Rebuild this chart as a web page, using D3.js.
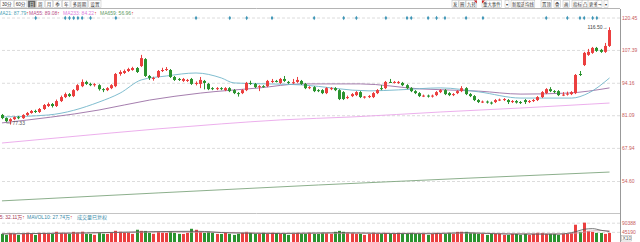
<!DOCTYPE html>
<html>
<head>
<meta charset="utf-8">
<script src="https://cdn.jsdelivr.net/npm/d3@7"></script>
<style>
  body { margin: 0; background: #fff; overflow: hidden; }
  svg { display: block; font-family: "Liberation Sans", Arial, "Noto Sans CJK SC", sans-serif; }
</style>
</head>
<body>
<svg id="chart" width="640" height="242"></svg>
<script>
// daily candles
const opens = [81.2,79.95,78.7,79.5,80.3,79.9,81.2,82.0,82.8,82.4,83.6,84.8,85.6,84.8,86.8,88.4,89.6,88.8,91.2,92.8,
  94.5,93.7,93.2,93.2,91.6,91.2,92.0,92.8,97.7,98.1,98.9,99.3,100.1,100.9,103.7,96.9,95.7,96.5,98.9,99.3,
  99.3,96.5,95.7,94.9,94.9,95.7,93.7,93.7,94.9,93.7,92.0,91.6,92.0,91.2,92.0,91.2,90.0,90.0,91.2,94.1,
  93.7,92.4,92.8,92.8,94.5,94.9,94.1,95.7,94.5,94.1,94.5,94.9,93.7,92.0,92.4,91.2,91.2,90.0,91.6,92.0,
  91.2,90.4,88.0,88.8,89.2,90.4,88.4,88.4,88.4,90.0,92.0,92.0,94.5,94.3,94.1,94.1,93.2,92.0,90.8,90.0,
  88.8,89.0,88.6,89.2,90.4,91.2,90.0,89.2,90.0,90.8,92.0,89.6,88.8,87.2,86.4,86.6,86.2,86.4,87.2,87.2,
  87.2,86.4,86.8,86.4,87.2,86.4,86.8,87.2,88.4,90.0,91.6,90.8,90.8,89.2,89.4,89.6,90.0,97.7,101.3,105.4,
  106.2,108.2,107.4,106.6,109.0];
const closes = [79.95,78.7,79.5,80.3,79.9,81.2,82.0,82.8,82.4,83.6,85.2,85.6,84.8,86.8,88.4,89.6,88.8,91.2,93.2,94.5,
  93.7,93.2,93.6,91.6,91.2,92.0,93.2,97.7,98.5,98.9,99.7,100.1,98.5,104.1,96.9,96.1,96.1,98.9,99.3,99.7,
  96.5,95.3,95.3,95.7,95.3,93.7,94.1,95.3,94.1,91.6,91.6,92.0,91.6,92.0,90.8,90.0,89.8,91.2,94.1,93.7,
  92.4,92.8,92.6,94.9,94.9,94.7,95.7,94.9,94.1,94.4,95.3,93.7,92.0,92.4,90.8,90.8,90.0,92.0,92.0,91.2,
  87.6,87.6,88.4,89.6,90.4,88.4,88.6,88.8,90.0,91.2,91.8,94.5,94.3,94.5,94.5,93.2,92.0,90.8,90.0,88.8,
  89.0,88.6,89.0,90.4,91.2,89.6,89.2,89.6,90.8,92.0,89.6,88.8,87.2,86.4,86.6,86.2,85.8,87.2,87.4,87.6,
  86.4,86.8,86.2,86.0,86.4,86.8,87.2,88.4,90.4,91.6,90.8,90.4,89.2,89.4,89.8,90.4,97.3,97.5,106.2,106.6,
  108.2,107.0,106.6,109.0,115.4];
const highs = [81.6,80.2,79.9,80.6,80.8,81.5,82.4,83.2,83.3,84.0,85.6,86.2,86.0,87.4,89.0,90.2,90.0,91.6,93.6,95.5,
  95.0,94.2,94.0,93.6,92.0,92.4,93.6,98.1,99.2,99.5,100.2,100.6,100.5,105.4,104.1,97.3,96.6,99.3,100.2,100.5,
  99.7,96.9,96.1,96.1,95.7,96.1,94.7,96.5,95.3,94.1,92.4,92.4,92.4,92.4,92.4,91.6,90.4,91.6,94.5,95.0,
  94.1,93.2,93.2,95.3,95.7,95.3,96.1,96.9,94.9,95.7,96.5,95.3,94.1,92.8,92.8,91.6,91.6,92.4,92.4,92.4,
  91.6,90.8,89.0,90.0,90.8,90.8,88.8,89.2,90.4,91.6,93.2,94.9,95.7,94.9,94.9,94.5,93.6,92.4,91.2,90.4,
  89.4,89.4,89.4,90.8,91.6,91.6,90.4,90.0,91.2,92.8,92.4,90.0,89.2,87.6,87.0,87.0,86.6,87.6,87.8,88.0,
  87.6,87.2,87.2,86.8,87.6,87.2,87.6,88.8,90.8,92.0,92.4,91.2,91.2,90.4,90.6,90.8,97.7,98.9,106.6,107.8,
  108.6,108.6,107.8,110.2,116.5];
const lows = [79.5,78.3,77.33,79.1,79.5,79.6,80.8,81.7,82.0,82.0,83.2,84.4,84.2,84.4,86.4,88.0,88.4,88.4,90.8,92.4,
  93.3,92.8,92.6,91.0,90.4,90.8,91.6,92.4,97.0,97.7,98.5,99.0,98.1,100.5,96.5,95.3,95.0,96.1,98.5,98.9,
  96.1,94.9,94.9,94.5,94.5,93.3,93.1,92.0,91.5,91.2,91.2,91.2,91.2,90.8,90.4,89.6,88.6,89.6,90.8,93.3,
  92.0,90.8,92.2,92.4,94.1,94.3,93.7,94.5,93.7,93.7,94.1,93.3,91.6,91.6,90.4,90.4,89.6,89.6,91.2,90.8,
  87.2,87.2,87.6,88.4,88.8,88.0,87.8,88.0,88.0,89.6,91.2,91.6,94.1,93.9,93.7,92.8,91.6,90.4,89.6,88.4,
  88.4,88.2,88.2,88.8,90.0,89.2,88.8,88.8,89.6,90.4,89.2,88.4,86.8,86.0,86.0,85.8,85.4,86.0,86.8,86.8,
  85.6,86.0,85.8,85.6,85.6,86.0,86.4,86.8,88.0,89.6,90.4,90.0,88.8,88.8,89.0,89.2,89.6,96.9,100.9,105.0,
  105.8,106.6,106.2,106.2,108.6];
// volume (axis units, x10)
const volumes = [35100,30400,40200,34800,30100,35600,40900,34700,29800,40500,
  40100,35300,34900,45600,40400,39800,35200,45100,40700,45900,
  35400,34600,30300,40100,35800,34900,40600,50300,45400,40200,
  40800,35100,55600,50100,49700,40300,35500,45200,40600,39900,
  45300,40100,35200,34800,40500,60400,55300,45100,40300,45600,
  40200,35100,34700,40400,35300,30200,35600,40100,45300,40700,
  35200,34900,40300,35400,40600,39800,35100,34600,30300,35500,
  40200,35300,34800,40700,35100,34600,40300,39900,35200,45400,
  50100,45300,40200,39700,35400,34900,30100,35300,40400,35100,
  34800,40300,35200,34700,40100,35400,34900,40600,35300,34800,
  35100,30300,35400,40200,35100,34700,40300,35200,45100,45600,
  45300,40200,39800,35300,34900,30100,35200,34800,35400,30300,
  30100,35200,34900,30400,35300,30200,35100,40400,39900,35200,
  35400,34800,30300,35100,34700,40200,80400,45300,90600,50200,
  45100,40300,39800,35200,40100];

// moving averages, sampled as [candle index, value]
const ma21 = [[0,80.4],[11,81.2],[23,86.4],[28,90.0],[33,95.3],[39,96.9],[46,98.1],[52,96.1],[55,94.1],[71,93.3],
  [87,90.9],[94,91.3],[104,92.1],[113,90.5],[123,88.0],[135,88.0],[139,90.0],[144,96.1]];
const ma55 = [[0,78.0],[23,83.2],[35,87.2],[47,90.0],[61,92.1],[71,93.7],[85,93.7],[99,91.7],[113,90.8],
  [123,89.6],[134,90.0],[144,92.1]];
const ma233 = [[0,69.9],[23,73.5],[37,75.6],[52,77.6],[66,79.2],[83,80.4],[104,82.4],[123,84.0],[144,86.0]];
const ma659 = [[0,46.6],[37,49.8],[75,53.0],[144,58.2]];
const mavol5 = [[0,35000],[12,38000],[20,40000],[30,44000],[36,46000],[46,48000],[54,40000],[66,37000],[80,41000],
  [92,37000],[102,36000],[110,41000],[120,34000],[132,34000],[136,46000],[138,58000],[140,61000],[142,53000],[144,46000]];
const mavol10 = [[0,36000],[20,39000],[35,44000],[50,43000],[70,38000],[90,38000],[110,39000],[130,35000],
  [137,40000],[140,50000],[144,52000]];

// event markers (candle indices)
const events = [8,15,16,17,18,19,21,27,46,54,58,64,74,81,84,91,96,97,101,103,105,110,114,129,134,137,138,140,141];

const priceTicks = [120.45, 107.39, 94.16, 81.09, 67.94, 54.60];
const priceTickLabels = ['120.45','107.39','94.16','81.09','67.94','54.60'];
const volTicks = [90388, 45190];
const volTickLabels = ['90388','45190'];

const maLegend = [
  {text: 'MA21: 87.79', color: '#4a9fb5', x: -2},
  {text: 'MA55: 89.08', color: '#b8508a', x: 29},
  {text: 'MA233: 84.22', color: '#dd80dd', x: 63},
  {text: 'MA659: 56.96', color: '#5f9a5f', x: 100}
];
const volLegend = [
  {text: 'MAVOL5: 32.11万', color: '#a8405a', x: -17.5},
  {text: 'MAVOL10: 27.74万', color: '#3a8aa8', x: 27}
];
const leftTabs = ['30分','60分','日','周','月','季','年','多周期','设置'];
const rightTabs = [['发',453],['圈',460],['九转',467],['重大事件',483],['▾',506],['新股选',512],['均线',525],
  ['置顶',542],['叠',555],['画',564],['指标',573],['凸',583],['更多',589],['⇥',598],['▾',605]];

const RED = '#eb3f3f', GREEN = '#2b932f';
const svg = d3.select('#chart');
const N = closes.length;
const plotRight = 620;

const x = d3.scaleBand().domain(d3.range(N)).range([0.5, 611]).paddingInner(0.3);
const cx = i => x(i) + x.bandwidth() / 2;
const y = d3.scaleLinear().domain([54.60, 120.45]).range([181, 17.5]);
const yv = d3.scaleLinear().domain([0, 90388]).range([241, 222.7]);

// gridlines
const grid = svg.append('g').attr('transform', `translate(${plotRight},0)`)
  .call(d3.axisLeft(y).tickValues(priceTicks).tickSize(plotRight).tickFormat(''));
grid.select('.domain').remove();
grid.selectAll('line').attr('stroke', '#dcdcdc').attr('stroke-dasharray', '3,2');

const vgrid = svg.append('g').attr('transform', `translate(${plotRight},0)`)
  .call(d3.axisLeft(yv).tickValues(volTicks).tickSize(plotRight).tickFormat(''));
vgrid.select('.domain').remove();
vgrid.selectAll('line').attr('stroke', '#dcdcdc').attr('stroke-dasharray', '3,2');

// separators
svg.append('line').attr('x1', 0).attr('x2', plotRight).attr('y1', 8.5).attr('y2', 8.5).attr('stroke', '#b4b4b4');
svg.append('line').attr('x1', 0).attr('x2', plotRight).attr('y1', 213.5).attr('y2', 213.5).attr('stroke', '#c4c4c4');
svg.append('line').attr('x1', plotRight + 0.5).attr('x2', plotRight + 0.5).attr('y1', 9).attr('y2', 242).attr('stroke', '#999');

// right price axis labels
const ay = svg.append('g').attr('transform', `translate(${plotRight},0)`)
  .call(d3.axisRight(y).tickValues(priceTicks).tickSize(0).tickPadding(2).tickFormat((d, i) => priceTickLabels[i]));
ay.select('.domain').remove();
ay.selectAll('text').attr('fill', '#c85a5a').style('font-size', '5px').style('font-family', 'Liberation Sans, Arial, sans-serif');

const av = svg.append('g').attr('transform', `translate(${plotRight},0)`)
  .call(d3.axisRight(yv).tickValues(volTicks).tickSize(0).tickPadding(2).tickFormat((d, i) => volTickLabels[i]));
av.select('.domain').remove();
av.selectAll('text').attr('fill', '#c85a5a').style('font-size', '5px').style('font-family', 'Liberation Sans, Arial, sans-serif');
svg.append('rect').attr('x', 621.5).attr('y', 235.5).attr('width', 10).attr('height', 5.5).attr('fill', 'none').attr('stroke', '#aaa').attr('stroke-width', 0.5);
svg.append('text').attr('x', 622.5).attr('y', 240).attr('font-size', 5).attr('fill', '#666').text('X10');

// MA lines
const maLine = d3.line().x(d => cx(d[0])).y(d => y(d[1])).curve(d3.curveMonotoneX);
const plot = svg.append('g');
[[ma659, '#7fa67f'], [ma233, '#eaa6ea'], [ma55, '#9b6fa5'], [ma21, '#72b6c9']].forEach(([data, color]) => {
  plot.append('path').attr('d', maLine(data)).attr('fill', 'none').attr('stroke', color).attr('stroke-width', 0.9);
});

// candles
const candle = plot.selectAll('.candle').data(d3.range(N)).enter().append('g').attr('class', 'candle');
const col = i => closes[i] >= opens[i] ? RED : GREEN;
candle.append('line')
  .attr('x1', i => Math.round(x(i)) + 1.5).attr('x2', i => Math.round(x(i)) + 1.5)
  .attr('y1', i => y(highs[i])).attr('y2', i => y(lows[i]))
  .attr('stroke', col).attr('stroke-width', 1);
candle.append('rect')
  .attr('x', i => Math.round(x(i)))
  .attr('width', 3)
  .attr('y', i => y(Math.max(opens[i], closes[i])))
  .attr('height', i => Math.max(1, Math.abs(y(opens[i]) - y(closes[i]))))
  .attr('fill', col);

// event diamonds on the top gridline
svg.selectAll('.evt').data(events).enter().append('path')
  .attr('transform', i => `translate(${cx(i)},${y(120.45) + 0.5})`)
  .attr('d', d3.symbol(d3.symbolDiamond).size(6))
  .attr('fill', '#3d95b6');

// high / low labels
const last = N - 1;
svg.append('text').attr('x', cx(last) - 2).attr('y', y(highs[last]) + 1.2).attr('text-anchor', 'end')
  .attr('font-size', 5).attr('fill', '#444').text(highs[last].toFixed(2) + '→');
const lowIdx = d3.minIndex(lows);
svg.append('line').attr('x1', cx(lowIdx) - 4).attr('x2', cx(lowIdx) + 1).attr('y1', y(lows[lowIdx]) - 1.5).attr('y2', y(lows[lowIdx]) - 1.5)
  .attr('stroke', '#666').attr('stroke-width', 0.6);
svg.append('text').attr('x', cx(lowIdx) + 2).attr('y', y(lows[lowIdx]) + 0).attr('font-size', 5).attr('fill', '#555')
  .text(lows[lowIdx].toFixed(2));

// volume
svg.selectAll('.vol').data(d3.range(N)).enter().append('rect')
  .attr('x', i => Math.round(x(i))).attr('width', 3)
  .attr('y', i => yv(volumes[i])).attr('height', i => yv(0) - yv(volumes[i]) + 1)
  .attr('fill', col);
const volLine = d3.line().x(d => cx(d[0])).y(d => yv(d[1])).curve(d3.curveMonotoneX);
svg.append('path').attr('d', volLine(mavol10)).attr('fill', 'none').attr('stroke', '#c99aa6').attr('stroke-width', 0.8);
svg.append('path').attr('d', volLine(mavol5)).attr('fill', 'none').attr('stroke', '#555').attr('stroke-width', 0.8);

// legends
maLegend.forEach(d => {
  const t = svg.append('text').attr('x', d.x).attr('y', 14.5).attr('font-size', 5).attr('fill', d.color).text(d.text);
  t.append('tspan').attr('fill', '#e04040').text('↑');
});
volLegend.forEach(d => {
  const t = svg.append('text').attr('x', d.x).attr('y', 219.3).attr('font-size', 5).attr('fill', d.color).text(d.text);
  t.append('tspan').attr('fill', '#e04040').text('↑');
});
svg.append('text').attr('x', 77).attr('y', 219.3).attr('font-size', 5).attr('fill', '#3a8aa8').text('成交量已复权');

// toolbar
let tx = 0.5;
leftTabs.forEach(label => {
  const g = svg.append('g');
  const r = g.append('rect').attr('y', 0.5).attr('height', 7).attr('stroke', '#bbb').attr('stroke-width', 0.5);
  const t = g.append('text').attr('y', 6).attr('font-size', 4.6).text(label);
  const w = t.node().getComputedTextLength() + 3;
  r.attr('x', tx).attr('width', w).attr('fill', label === '日' ? '#666' : '#fff');
  t.attr('x', tx + 1.5).attr('fill', label === '日' ? '#fff' : '#333');
  tx += w + 1;
});
rightTabs.forEach(([label, px]) => {
  const g = svg.append('g');
  const r = g.append('rect').attr('y', 0.5).attr('height', 7).attr('fill', '#fff').attr('stroke', '#bbb').attr('stroke-width', 0.5);
  const t = g.append('text').attr('x', px).attr('y', 6).attr('font-size', 4.4).attr('fill', '#333').text(label);
  const w = t.node().getComputedTextLength();
  r.attr('x', px - 1).attr('width', w + 2);
  if (label === '九转') g.append('path').attr('d', `M${px + w - 2},0.5 L${px + w + 1},0.5 L${px + w + 1},3.5 Z`).attr('fill', '#d02020');
  if (label === '重大事件') g.append('path').attr('d', `M${px - 1},0.5 L${px + 2},0.5 L${px - 1},3.5 Z`).attr('fill', '#d02020');
});
</script>
</body>
</html>
